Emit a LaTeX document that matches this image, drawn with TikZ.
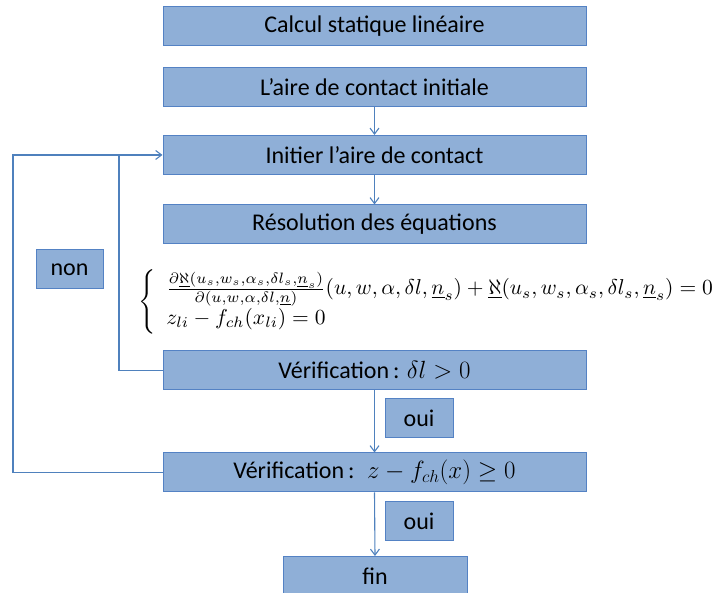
\documentclass[tikz,border=0pt]{standalone}
\usepackage{amsmath}
\usepackage{fontspec}
\setmainfont{Carlito}
\usetikzlibrary{arrows.meta}
\definecolor{boxfill}{RGB}{143,175,215}
\definecolor{boxdraw}{RGB}{84,130,196}
\definecolor{linec}{RGB}{79,129,189}
\begin{document}
\begin{tikzpicture}[x=1pt,y=-1pt,
  box/.style={draw=boxdraw, fill=boxfill, line width=1pt, minimum width=423pt, minimum height=39pt, inner sep=0pt, font=\fontsize{24}{28}\selectfont, text=black},
  smallbox/.style={draw=boxdraw, fill=boxfill, line width=1pt, minimum width=68pt, minimum height=39pt, inner sep=0pt, font=\fontsize{24}{28}\selectfont, text=black},
  conn/.style={draw=linec, line width=1.1pt},
  arr/.style={conn, -{Straight Barb[length=6pt,width=9pt]}}]
\useasboundingbox (0,0) rectangle (716,593);
\node[box] (b1) at (374.5,26.5) {Calcul statique linéaire};
\node[box] (b2) at (374.5,87.5) {L’aire de contact initiale};
\node[box] (b3) at (374.5,155) {Initier l’aire de contact};
\node[box] (b4) at (374.5,224.5) {Résolution des équations};
\node[box] (b5) at (374.5,370.5) {Vérification\,: $\delta l>0$};
\node[box] (b6) at (374.5,472.5) {Vérification\,: \ $z-f_{ch}(x)\geq 0$};
\node[smallbox] (o1) at (419,418.5) {oui};
\node[smallbox] (o2) at (419,521.5) {oui};
\node[smallbox, minimum width=184pt] (fin) at (375,576) {fin};
\node[smallbox, minimum width=67pt] (non) at (69.5,269.5) {non};
\node[anchor=west, inner sep=0pt] (eq) at (138,302) {\resizebox{588pt}{!}{$\left\{\begin{array}{l}
\frac{\partial\underline{\aleph}(u_s,w_s,\alpha_s,\delta l_s,\underline{n}_s)}{\partial(u,w,\alpha,\delta l,\underline{n})}(u,w,\alpha,\delta l,\underline{n}_s)+\underline{\aleph}(u_s,w_s,\alpha_s,\delta l_s,\underline{n}_s)=0\\
z_{li}-f_{ch}(x_{li})=0
\end{array}\right.$}};
\draw[arr] (b2.south) -- (b3.north);
\draw[arr] (b3.south) -- (b4.north);
\draw[arr] (b5.south) -- (b6.north);
\draw[arr] (b6.south) -- (fin.north);
\coordinate (in1) at (119,370.5);
\coordinate (in2) at (119,155);
\coordinate (out1) at (13,472.5);
\coordinate (out2) at (13,155);
\draw[conn] (b5.west) -- (in1) -- (in2);
\draw[arr] (b6.west) -- (out1) -- (out2) -- (b3.west);
\end{tikzpicture}
\end{document}
